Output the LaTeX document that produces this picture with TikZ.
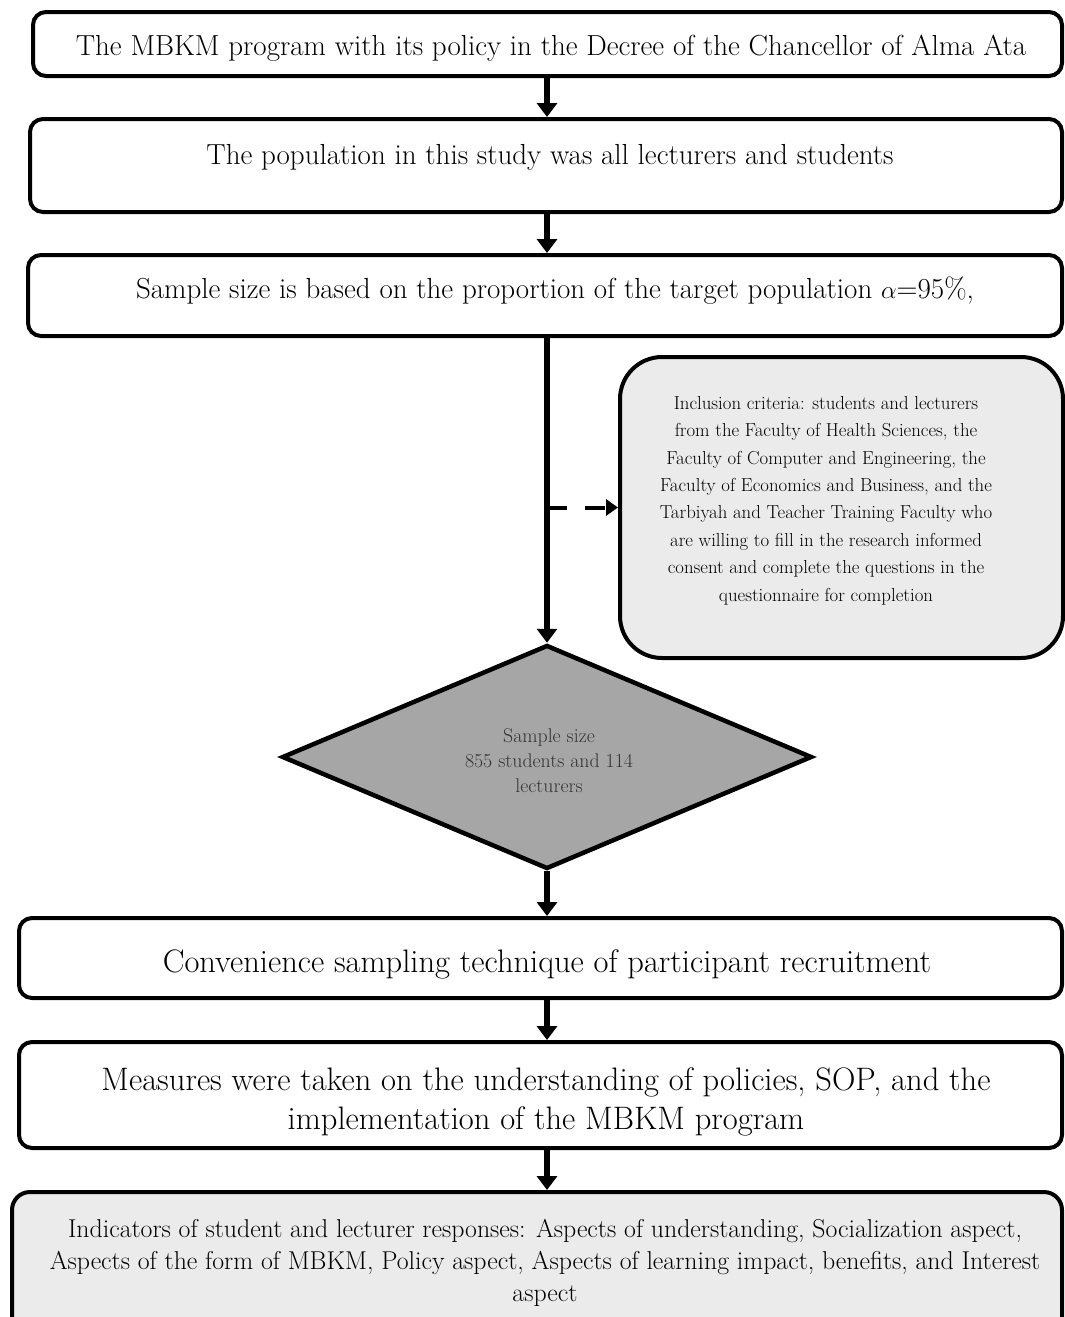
\documentclass[tikz,border=0pt]{standalone}
\usetikzlibrary{arrows.meta,shapes.geometric}
\definecolor{lightfill}{HTML}{EBEBEB}
\definecolor{diafill}{HTML}{A6A6A6}
\definecolor{diatext}{HTML}{333333}
\begin{document}
\begin{tikzpicture}[x=1pt,y=-1pt,
  box/.style={draw,line width=4pt,rounded corners=13pt,inner sep=0pt},
  arr/.style={line width=5.5pt,-{Triangle[length=14pt,width=20pt]}},
  big/.style={font=\fontsize{29}{39}\selectfont,align=center,inner sep=0pt,anchor=base},
  bigger/.style={font=\fontsize{32.5}{39}\selectfont,align=center,inner sep=0pt,anchor=base},
  mid/.style={font=\fontsize{25.8}{32}\selectfont,align=center,inner sep=0pt,anchor=base},
  small/.style={font=\fontsize{18.8}{27.4}\selectfont,align=center,inner sep=0pt,anchor=base}]
\useasboundingbox (0,0) rectangle (1065,1317);
\clip (0,0) rectangle (1065,1317);

% boxes
\node[box,minimum width=1029pt,minimum height=64pt] (b1) at (547.5,44) {};
\node[big] (t1) at (551,55) {The MBKM program with its policy in the Decree of the Chancellor of Alma Ata};

\node[box,minimum width=1032pt,minimum height=93pt] (b2) at (546,165.5) {};
\node[big] (t2) at (550,164) {The population in this study was all lecturers and students};

\node[box,minimum width=1034pt,minimum height=81pt] (b3) at (545,295.5) {};
\node[big] (t3) at (555,298) {Sample size is based on the proportion of the target population $\alpha$=95\%,};

\node[box,fill=lightfill,rounded corners=42pt,minimum width=443pt,minimum height=301pt] (inc) at (841.5,507.5) {};
\node[small,text=black] (tinc) at (826,601) {Inclusion criteria: students and lecturers\\
from the Faculty of Health Sciences, the\\
Faculty of Computer and Engineering, the\\
Faculty of Economics and Business, and the\\
Tarbiyah and Teacher Training Faculty who\\
are willing to fill in the research informed\\
consent and complete the questions in the\\
questionnaire for completion};

\node[diamond,draw,line width=4.5pt,fill=diafill,inner sep=0pt,minimum width=530pt,minimum height=224pt] (d) at (547,757) {};
\node[small,text=diatext,font=\fontsize{19.8}{25}\selectfont] (td) at (549,792) {Sample size\\855 students and 114\\lecturers};

\node[box,minimum width=1043pt,minimum height=80pt] (b5) at (540.5,958) {};
\node[bigger] (t5) at (547,972) {Convenience sampling technique of participant recruitment};

\node[box,minimum width=1043pt,minimum height=106pt] (b6) at (540.5,1095) {};
\node[bigger] (t6) at (546,1129) {Measures were taken on the understanding of policies, SOP, and the\\implementation of the MBKM program};

\node[box,fill=lightfill,rounded corners=18pt,minimum width=1050pt,minimum height=160pt] (b7) at (537,1272) {};
\node[mid] (t7) at (545,1301) {Indicators of student and lecturer responses: Aspects of understanding, Socialization aspect,\\
Aspects of the form of MBKM, Policy aspect, Aspects of learning impact, benefits, and Interest\\
aspect};

% connectors
\draw[arr] (d.north |- b1.south) -- (d.north |- b2.north);
\draw[arr] (d.north |- b2.south) -- (d.north |- b3.north);
\draw[arr] (d.north |- b3.south) -- (d.north);
\draw[line width=4pt,dash pattern=on 20pt off 18pt,-{Triangle[length=12pt,width=16pt]}] (d.north |- inc.west) -- (inc.west);
\draw[arr] (d.south) -- (d.south |- b5.north);
\draw[arr] (d.south |- b5.south) -- (d.south |- b6.north);
\draw[arr] (d.south |- b6.south) -- (d.south |- b7.north);
\end{tikzpicture}
\end{document}
